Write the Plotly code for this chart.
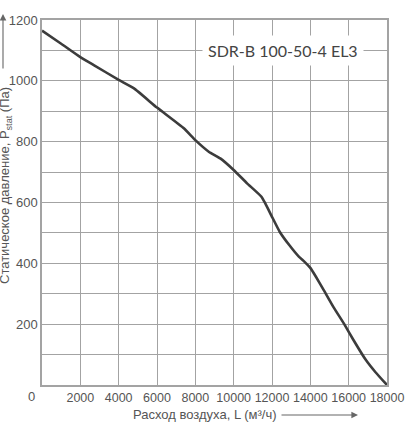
import plotly.graph_objects as go

# Data
flow = [0, 1000, 2000, 2700, 4000, 4800, 6000, 7400, 8000, 8700, 9300, 10000,
        10700, 11450, 11650, 12000, 12400, 12900, 13400, 13700, 14000, 14300,
        14700, 15200, 15800, 16250, 16900, 17400, 18000]
pressure = [1165, 1122, 1078, 1052, 1003, 975, 912, 844, 805, 767, 745, 707,
            663, 619, 597, 553, 504, 460, 422, 405, 385, 355,
            312, 257, 197, 148, 82, 42, 0]

x_ticks = [2000, 4000, 6000, 8000, 10000, 12000, 14000, 16000, 18000]
y_ticks = [200, 400, 600, 800, 1000, 1200]
model_label = "SDR-B 100-50-4 EL3"
x_title = "Расход воздуха, L (м³/ч)"
y_title = "Статическое давление, P<sub>stat</sub> (Па)"

GRID = "#a3a3a3"
TXT = "#555555"

fig = go.Figure()
fig.add_trace(go.Scatter(x=flow, y=pressure, mode="lines",
                         line=dict(color="#3c3c3c", width=2.6, shape="spline", smoothing=0.4),
                         hoverinfo="skip", showlegend=False))

fig.update_layout(
    width=411, height=427,
    margin=dict(l=42, r=24, t=20, b=42, autoexpand=False),
    paper_bgcolor="white", plot_bgcolor="white",
    font=dict(family="Liberation Sans, Arial", size=13, color=TXT),
    xaxis=dict(range=[0, 18000], tickvals=x_ticks, ticktext=[str(v) for v in x_ticks],
               showgrid=True, gridcolor=GRID, gridwidth=1.3,
               showline=True, linecolor=GRID, linewidth=1.5, mirror=True,
               zeroline=False, ticks="", tickangle=0, automargin=False,
               tickfont=dict(size=12.5, color=TXT), fixedrange=True),
    yaxis=dict(range=[0, 1200], tickvals=y_ticks, ticktext=[str(v) for v in y_ticks],
               showgrid=True, gridcolor=GRID, gridwidth=1.3,
               minor=dict(dtick=100, showgrid=True, gridcolor=GRID, gridwidth=1.3),
               showline=True, linecolor=GRID, linewidth=1.5, mirror=True,
               zeroline=False, ticks="", automargin=False,
               tickfont=dict(size=13, color=TXT), fixedrange=True),
)

# Model label box
fig.add_annotation(x=12574, y=1100, xref="x", yref="y", text=model_label,
                   showarrow=False, bgcolor="white", borderpad=5,
                   font=dict(family="Lato, Open Sans", size=16, color="#444444"))

# Origin "0" label
fig.add_annotation(x=(31 - 42) / 345, y=(385 - 396) / 365, xref="paper", yref="paper",
                   text="0", showarrow=False, xanchor="center", yanchor="middle",
                   font=dict(size=13, color=TXT))

# X title + arrow
fig.add_annotation(x=(205 - 42) / 345, y=(385 - 415) / 365, xref="paper", yref="paper",
                   text=x_title, showarrow=False, xanchor="center", yanchor="middle",
                   font=dict(size=13, color=TXT))
fig.add_annotation(x=(358 - 42) / 345, y=(385 - 415) / 365, xref="paper", yref="paper",
                   text="", showarrow=True, ax=-78, ay=0, axref="pixel", ayref="pixel",
                   arrowhead=2, arrowsize=1.2, arrowwidth=1.1, arrowcolor="#666666")

# Y title + arrow
fig.add_annotation(x=(5 - 42) / 345, y=(385 - 186) / 365, xref="paper", yref="paper",
                   text=y_title, showarrow=False, textangle=-90,
                   xanchor="center", yanchor="middle",
                   font=dict(size=13, color=TXT))
fig.add_annotation(x=(3 - 42) / 345, y=(385 - 14) / 365, xref="paper", yref="paper",
                   text="", showarrow=True, ax=0, ay=56, axref="pixel", ayref="pixel",
                   arrowhead=2, arrowsize=1.2, arrowwidth=1.1, arrowcolor="#666666")

fig.write_html("out.html", config={"displayModeBar": False},
               post_script="document.body.style.margin='0';document.body.style.overflow='hidden';")
